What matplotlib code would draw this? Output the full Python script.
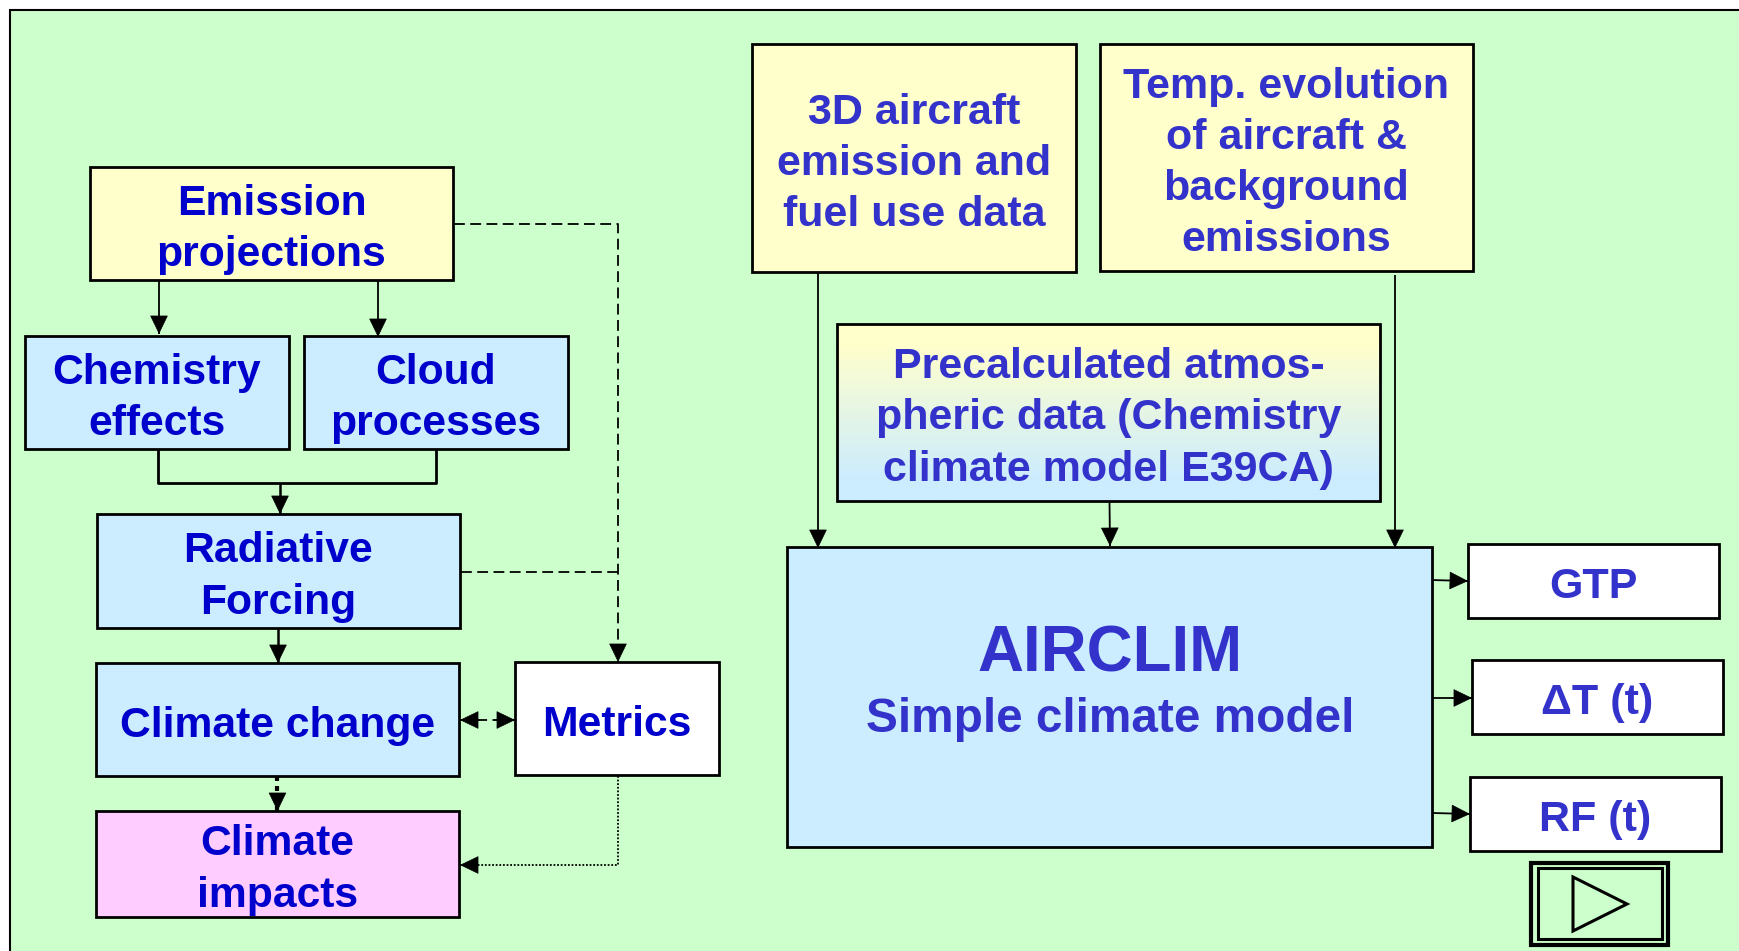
import numpy as np
import matplotlib
matplotlib.use('Agg')
import matplotlib.pyplot as plt
from matplotlib.patches import Rectangle, Polygon

plt.rcParams['font.family'] = ['Liberation Sans', 'DejaVu Sans']
plt.rcParams['font.weight'] = 'bold'

# box labels, left part
emission_label = 'Emission\nprojections'
chemistry_label = 'Chemistry\neffects'
cloud_label = 'Cloud\nprocesses'
forcing_label = 'Radiative\nForcing'
change_label = 'Climate change'
metrics_label = 'Metrics'
impacts_label = 'Climate\nimpacts'

# box labels, right part
aircraft_label = '3D aircraft\nemission and\nfuel use data'
evolution_label = 'Temp. evolution\nof aircraft &\nbackground\nemissions'
precalc_label = 'Precalculated atmos-\npheric data (Chemistry\nclimate model E39CA)'
airclim_title = 'AIRCLIM'
airclim_subtitle = 'Simple climate model'
output_labels = ['GTP', 'ΔT (t)', 'RF (t)']

GREEN = '#CCFFCC'
YELLOW = '#FFFFCC'
BLUE = '#CCECFF'
PINK = '#FFCCFF'
WHITE = '#FFFFFF'
DARK_BLUE = '#0000CC'
MID_BLUE = '#3333CC'


def draw_box(ax, x0, y0, x1, y1, fill, label=None, color=DARK_BLUE, size=30.7):
    ax.add_patch(Rectangle((x0, y0 - 1), x1 - x0 - 1, y1 - y0, fc=fill, ec='black', lw=2, zorder=3))
    if label:
        ax.text((x0 + x1) / 2 - 0.5, (y0 + y1) / 2 + 5, label, color=color, fontsize=size, ha='center',
                va='center', linespacing=1.36, zorder=5)


def draw_arrow(ax, points, ls='-', lw=1.3):
    xs = [p[0] for p in points]
    ys = [p[1] for p in points]
    ax.plot(xs, ys, color='black', lw=lw, ls=ls, zorder=2, solid_capstyle='butt')
    end = np.array(points[-1], dtype=float)
    prev = np.array(points[-2], dtype=float)
    back = end - (end - prev) / np.linalg.norm(end - prev) * 16
    ax.annotate('', xy=end, xytext=back, zorder=4,
                arrowprops=dict(arrowstyle='-|>,head_length=0.62,head_width=0.3', mutation_scale=20,
                                lw=0.5, color='black', shrinkA=0, shrinkB=0))


def draw_left(ax):
    draw_box(ax, 90, 168, 454, 281, YELLOW, emission_label)
    draw_box(ax, 25, 337, 290, 450, BLUE, chemistry_label)
    draw_box(ax, 304, 337, 569, 450, BLUE, cloud_label)
    draw_box(ax, 97, 515, 461, 629, BLUE, forcing_label)
    draw_box(ax, 96, 664, 460, 777, BLUE, change_label)
    draw_box(ax, 515, 663, 720, 776, WHITE, metrics_label)
    draw_box(ax, 96, 812, 460, 918, PINK, impacts_label)

    draw_arrow(ax, [(159, 281), (159, 334)])
    draw_arrow(ax, [(378, 281), (378, 337)])
    ax.plot([158, 158, 436, 436], [450, 483, 483, 450], color='black', lw=2, zorder=2)
    draw_arrow(ax, [(280, 483), (280, 514)], lw=1.8)
    draw_arrow(ax, [(278, 628), (278, 663)], lw=1.8)
    draw_arrow(ax, [(277.5, 776), (277.5, 811)], ls=(0, (1.2, 1.2)), lw=3)

    dash = (0, (6, 3))
    draw_arrow(ax, [(454, 224), (618, 224), (618, 662)], ls=dash)
    ax.plot([461, 618], [572, 572], color='black', lw=1.3, ls=dash, zorder=2)
    ax.plot([460, 515], [720, 720], color='black', lw=1.3, ls=dash, zorder=2)
    draw_arrow(ax, [(480, 720), (460, 720)])
    draw_arrow(ax, [(495, 720), (515, 720)])
    draw_arrow(ax, [(618, 776), (618, 865), (460, 865)], ls=(0, (1, 1)))


def draw_right(ax):
    draw_box(ax, 752, 45, 1077, 273, YELLOW, aircraft_label, MID_BLUE, 31)
    draw_box(ax, 1100, 45, 1474, 272, YELLOW, evolution_label, MID_BLUE, 31)

    # vertical yellow to blue fill of the precalculated data box
    gradient = np.linspace(0, 1, 256).reshape(-1, 1)
    cmap = matplotlib.colors.LinearSegmentedColormap.from_list(
        'fade', [(0, YELLOW), (0.12, YELLOW), (0.88, BLUE), (1, BLUE)])
    ax.imshow(gradient, extent=(837, 1380, 501, 324), cmap=cmap, aspect='auto', zorder=2.5)
    draw_box(ax, 837, 325, 1381, 502, 'none', precalc_label, MID_BLUE, 31)

    draw_box(ax, 787, 548, 1433, 848, BLUE)
    ax.text(1110, 655, airclim_title, color=MID_BLUE, fontsize=45.8, ha='center', va='center', zorder=5)
    ax.text(1110, 719, airclim_subtitle, color=MID_BLUE, fontsize=34.4, ha='center', va='center', zorder=5)

    draw_box(ax, 1468, 545, 1720, 619, WHITE, output_labels[0], MID_BLUE, 31)
    draw_box(ax, 1472, 661, 1724, 735, WHITE, output_labels[1], MID_BLUE, 31)
    draw_box(ax, 1470, 778, 1722, 852, WHITE, output_labels[2], MID_BLUE, 31)

    draw_arrow(ax, [(818, 273), (818, 548)])
    draw_arrow(ax, [(1109.5, 502), (1110, 546)])
    draw_arrow(ax, [(1395, 275), (1395, 548)])
    draw_arrow(ax, [(1431, 580), (1468, 581)])
    draw_arrow(ax, [(1433, 698), (1472, 698)])
    draw_arrow(ax, [(1433, 813), (1470, 814)])


def draw_button(ax):
    ax.add_patch(Rectangle((1531, 863), 137, 82, fc='none', ec='black', lw=3, zorder=3))
    ax.add_patch(Rectangle((1538, 868), 124, 71, fc='none', ec='black', lw=2.2, zorder=3))
    ax.add_patch(Polygon([(1573, 877), (1573, 931), (1627, 904)], closed=True, fc='none', ec='black',
                         lw=2.2, zorder=3))


fig = plt.figure(figsize=(17.4, 9.51), dpi=100)
ax = fig.add_axes([0, 0, 1, 1])
ax.add_patch(Rectangle((10, 10), 1760, 980, fc=GREEN, ec='black', lw=1.5, zorder=0))
draw_left(ax)
draw_right(ax)
draw_button(ax)
ax.set_xlim(0, 1740)
ax.set_ylim(951, 0)
ax.axis('off')
fig.savefig('out.png', dpi=100)
